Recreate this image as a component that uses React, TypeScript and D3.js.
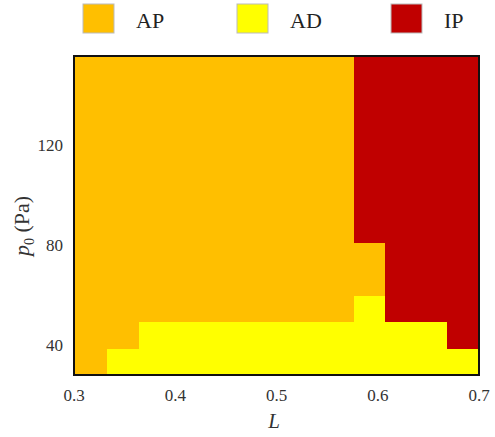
import React from 'react';
import * as d3 from 'd3';

// phase diagram
const phases = ['AP', 'AD', 'IP'];
const phaseColors = ['#FFBF00', '#FFFF00', '#C00000'];
const lEdges = [0.3, 0.333, 0.364, 0.577, 0.607, 0.668, 0.7];
const pEdges = [28, 38.4, 49.1, 59.6, 80.9, 155.6];
// rows from bottom to top, one entry per L column
const phaseRows = [
  ['AP', 'AD', 'AD', 'AD', 'AD', 'AD'],
  ['AP', 'AP', 'AD', 'AD', 'AD', 'IP'],
  ['AP', 'AP', 'AP', 'AD', 'IP', 'IP'],
  ['AP', 'AP', 'AP', 'AP', 'IP', 'IP'],
  ['AP', 'AP', 'AP', 'IP', 'IP', 'IP'],
];
const xTicks = [0.3, 0.4, 0.5, 0.6, 0.7];
const yTicks = [40, 80, 120];

export default function App() {
  const width = 495, height = 437;
  const left = 74, right = 479, top = 56, bottom = 375;
  const font = 'Liberation Serif, Times New Roman, serif';

  let x = d3.scaleLinear().domain([0.3, 0.7]).range([left, right]);
  let y = d3.scaleLinear().domain([pEdges[0], pEdges[pEdges.length - 1]]).range([bottom, top]);
  let color = d3.scaleOrdinal<string, string>().domain(phases).range(phaseColors);

  let cells = phaseRows.flatMap((row, j) => row.map((ph, i) => (
    <rect key={i + '-' + j}
      x={Math.round(x(lEdges[i]))} y={Math.round(y(pEdges[j + 1]))}
      width={Math.round(x(lEdges[i + 1])) - Math.round(x(lEdges[i]))}
      height={Math.round(y(pEdges[j])) - Math.round(y(pEdges[j + 1]))}
      fill={color(ph)} />
  )));

  let legendX = [83, 237, 391];

  return (
    <svg width={width} height={height} style={{ position: 'absolute', left: 0, top: 0 }}>
      <rect width={width} height={height} fill='#fff' />
      {phases.map((ph, i) => (
        <g key={ph}>
          <rect x={legendX[i]} y={4} width={31} height={29} fill={color(ph)} stroke='#bbb' strokeWidth={1} />
          <text x={legendX[i] + 53} y={28} fontFamily={font} fontSize={22} fill='#222'>{ph}</text>
        </g>
      ))}
      <g shapeRendering='crispEdges'>{cells}</g>
      <rect x={left} y={top} width={right - left} height={bottom - top} fill='none' stroke='#111' strokeWidth={2} />
      {xTicks.map(t => (
        <text key={t} x={x(t)} y={401} textAnchor='middle' fontFamily={font} fontSize={17} fill='#333'>{d3.format('.1f')(t)}</text>
      ))}
      {yTicks.map(t => (
        <text key={t} x={63} y={y(t) + 6} textAnchor='end' fontFamily={font} fontSize={17} fill='#333'>{t}</text>
      ))}
      <text x={274} y={428} textAnchor='middle' fontFamily={font} fontSize={21} fontStyle='italic' fill='#333'>L</text>
      <text transform='translate(29,226) rotate(-90)' textAnchor='middle' fontFamily={font} fontSize={22} fill='#333'>
        <tspan fontStyle='italic'>p</tspan>
        <tspan fontSize={14} dy={5}>0</tspan>
        <tspan dy={-5}> (Pa)</tspan>
      </text>
    </svg>
  );
}
